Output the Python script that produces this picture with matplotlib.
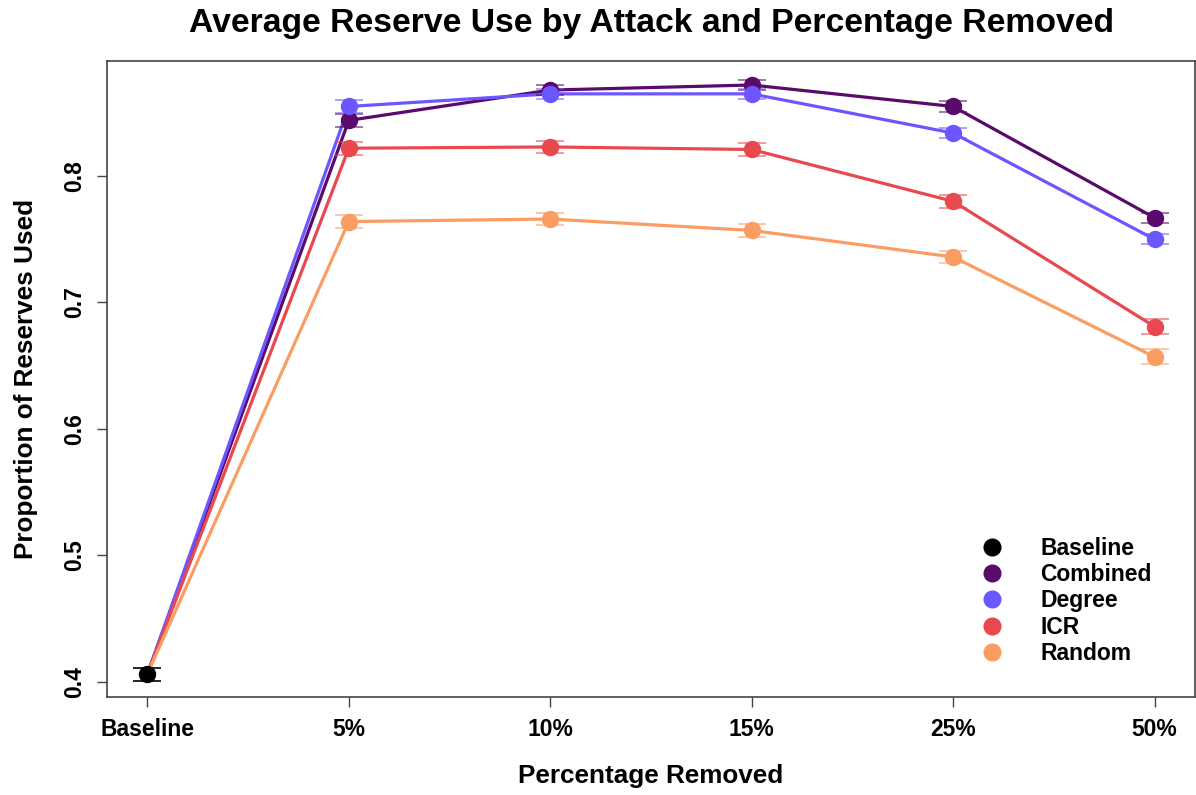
import matplotlib
matplotlib.use("Agg")
import matplotlib.pyplot as plt
from matplotlib.lines import Line2D

plt.rcParams['font.family'] = ['Liberation Sans', 'DejaVu Sans']
plt.rcParams['font.weight'] = 'bold'

categories = ["Baseline", "5%", "10%", "15%", "25%", "50%"]
baseline_mean = 0.406
baseline_err = 0.005

attacks = ["Combined", "Degree", "ICR", "Random"]
colors = {"Baseline": "#000000", "Combined": "#5A0A6A", "Degree": "#6C56FF",
          "ICR": "#E8484E", "Random": "#FB9D63"}

means = {
    "Combined": [0.844, 0.868, 0.872, 0.855, 0.767],
    "Degree":   [0.855, 0.865, 0.865, 0.834, 0.750],
    "ICR":      [0.822, 0.823, 0.821, 0.780, 0.681],
    "Random":   [0.764, 0.766, 0.757, 0.736, 0.657],
}
errs = {
    "Combined": [0.005, 0.004, 0.004, 0.004, 0.004],
    "Degree":   [0.005, 0.004, 0.004, 0.004, 0.004],
    "ICR":      [0.005, 0.005, 0.005, 0.005, 0.006],
    "Random":   [0.005, 0.005, 0.005, 0.005, 0.006],
}

fig = plt.figure(figsize=(11.96, 7.95), dpi=100)
ax = fig.add_axes([0.0895, 0.1233, 0.9095, 0.8])

xs = list(range(1, len(categories) + 1))

for name in attacks:
    ys = [baseline_mean] + means[name]
    ax.plot(xs, ys, color=colors[name], lw=2.3, zorder=2)
    ax.errorbar(xs[1:], means[name], yerr=errs[name], fmt='none',
                ecolor=colors[name], alpha=0.65, capsize=10, elinewidth=1.2,
                capthick=1.2, zorder=3)
    ax.plot(xs[1:], means[name], 'o', color=colors[name], ms=11.5, zorder=4)

ax.errorbar([1], [baseline_mean], yerr=[baseline_err], fmt='none', ecolor='black',
            capsize=10, elinewidth=1.2, capthick=1.2, zorder=3)
ax.plot([1], [baseline_mean], 'o', color='black', ms=11.5, zorder=4)

ax.set_xlim(0.8, 6.2)
ax.set_ylim(0.388, 0.891)
ax.set_xticks(xs)
ax.set_xticklabels(categories, fontsize=16.5, fontweight='bold')
ax.set_yticks([0.4, 0.5, 0.6, 0.7, 0.8])
ax.set_yticklabels(["0.4", "0.5", "0.6", "0.7", "0.8"], fontsize=16.5,
                   fontweight='bold', rotation=90, va='center')
ax.tick_params(axis='both', direction='out', length=7, width=1, color='#444444', pad=8)
for sp in ax.spines.values():
    sp.set_color('#444444')
    sp.set_linewidth(1.2)

ax.set_xlabel("Percentage Removed", fontsize=18.8, fontweight='bold', labelpad=17)
ax.set_ylabel("Proportion of Reserves Used", fontsize=18.8, fontweight='bold', labelpad=18)
fig.suptitle("Average Reserve Use by Attack and Percentage Removed", fontsize=24.3,
             fontweight='bold', x=0.5445, y=0.99)

legend_names = ["Baseline"] + attacks
handles = [Line2D([], [], marker='o', ls='none', color=colors[n], ms=12) for n in legend_names]
ax.legend(handles, legend_names, loc='upper left', bbox_to_anchor=(0.8027, 0.351),
          bbox_transform=fig.transFigure, frameon=False, handlelength=1.0,
          handletextpad=1.6, labelspacing=0.15,
          prop={'weight': 'bold', 'size': 16.5})

fig.savefig("out.png", dpi=100)
